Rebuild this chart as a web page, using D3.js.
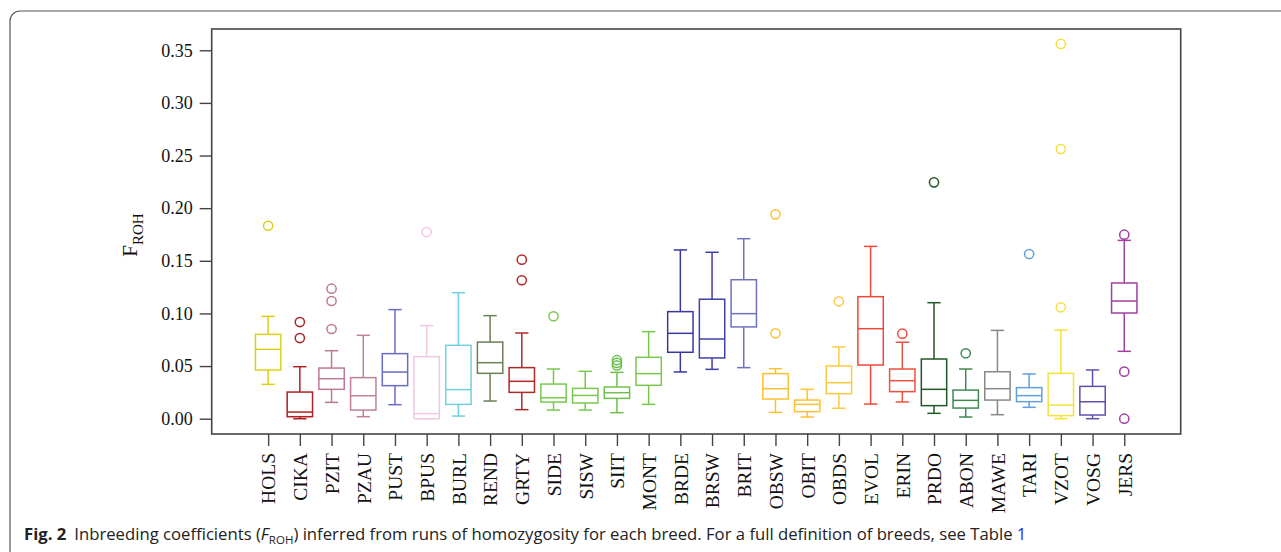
<!DOCTYPE html>
<html>
<head>
<meta charset="utf-8">
<script src="https://cdn.jsdelivr.net/npm/d3@7"></script>
<style>
  body { margin: 0; background: #fff; }
  svg { display: block; }
</style>
</head>
<body>
<svg id="froh" width="1281" height="552"></svg>
<script>
// breeds, in plotting order
var breeds = ["HOLS", "CIKA", "PZIT", "PZAU", "PUST", "BPUS", "BURL", "REND", "GRTY", "SIDE",
    "SISW", "SIIT", "MONT", "BRDE", "BRSW", "BRIT", "OBSW", "OBIT", "OBDS", "EVOL",
    "ERIN", "PRDO", "ABON", "MAWE", "TARI", "VZOT", "VOSG", "JERS"];

// box statistics
var whiskerLow  = [0.0326, 0.0000, 0.0155, 0.0019, 0.0133, 0.0000, 0.0025, 0.0168, 0.0086, 0.0082,
    0.0082, 0.0057, 0.0136, 0.0444, 0.0469, 0.0485, 0.0060, 0.0016, 0.0099, 0.0139,
    0.0159, 0.0051, 0.0016, 0.0038, 0.0108, 0.0000, 0.0000, 0.0640];
var q1          = [0.0462, 0.0019, 0.0279, 0.0082, 0.0314, 0.0000, 0.0136, 0.0431, 0.0250, 0.0158,
    0.0149, 0.0193, 0.0317, 0.0631, 0.0577, 0.0872, 0.0187, 0.0067, 0.0238, 0.0510,
    0.0257, 0.0124, 0.0101, 0.0177, 0.0162, 0.0029, 0.0035, 0.1004];
var median      = [0.0659, 0.0063, 0.0380, 0.0218, 0.0443, 0.0048, 0.0276, 0.0532, 0.0355, 0.0199,
    0.0221, 0.0247, 0.0428, 0.0811, 0.0757, 0.0998, 0.0285, 0.0136, 0.0342, 0.0855,
    0.0361, 0.0279, 0.0174, 0.0285, 0.0219, 0.0130, 0.0161, 0.1118];
var q3          = [0.0801, 0.0253, 0.0481, 0.0390, 0.0618, 0.0589, 0.0697, 0.0728, 0.0485, 0.0329,
    0.0288, 0.0301, 0.0583, 0.1017, 0.1135, 0.1320, 0.0428, 0.0177, 0.0501, 0.1159,
    0.0472, 0.0567, 0.0272, 0.0446, 0.0295, 0.0431, 0.0307, 0.1289];
var whiskerHigh = [0.0972, 0.0494, 0.0646, 0.0792, 0.1036, 0.0884, 0.1197, 0.0979, 0.0814, 0.0472,
    0.0450, 0.0440, 0.0827, 0.1603, 0.1581, 0.1710, 0.0475, 0.0279, 0.0681, 0.1637,
    0.0726, 0.1102, 0.0472, 0.0839, 0.0425, 0.0842, 0.0463, 0.1694];
var outliers = [
    [0.1833], [0.0918, 0.0766], [0.1235, 0.1118, 0.0852], [], [], [0.1773], [], [],
    [0.1511, 0.1315], [0.0973], [], [0.0556, 0.0530, 0.0506], [], [], [], [],
    [0.1941, 0.0811], [], [0.1115], [], [0.0808], [0.2245], [0.0621], [],
    [0.1564], [0.3560, 0.2562, 0.1058], [], [0.1748, 0.0447, 0.0000]
];
var yTicks = [0.00, 0.05, 0.10, 0.15, 0.20, 0.25, 0.30, 0.35];

// one colour per breed
var palette = ["#dccf1c", "#b02020", "#c07898", "#c0809c", "#6a6ac8", "#f0c8e4", "#70d0e0", "#6a8055",
    "#b02828", "#78c850", "#78c850", "#70c050", "#78c850", "#3838a0", "#4040a8", "#7070c0",
    "#ffc030", "#ffc030", "#ffc840", "#f04838", "#f05040", "#205828", "#408850", "#888888",
    "#60a0e0", "#f4e23c", "#6050b0", "#a040a0"];

var svg = d3.select("svg#froh");
var serif = "'Liberation Serif', 'Times New Roman', serif";
var frame = { left: 211.7, right: 1180.7, top: 29, bottom: 434 };

// outer figure border (rounded corner top-left)
svg.append("rect")
    .attr("x", 10).attr("y", 11)
    .attr("width", 1400).attr("height", 700)
    .attr("rx", 10)
    .attr("fill", "none")
    .attr("stroke", "#555")
    .attr("stroke-width", 1.2);

var x = d3.scalePoint()
    .domain(breeds)
    .range([frame.left, frame.right])
    .padding(1.78);

var y = d3.scaleLinear()
    .domain([-0.01454, 0.3702])
    .range([frame.bottom, frame.top]);

var step = x.step();
var boxW = step * 0.8;
var capW = step * 0.42;

// y axis
var yAxis = svg.append("g")
    .attr("transform", "translate(" + frame.left + ",0)")
    .call(d3.axisLeft(y).tickValues(yTicks).tickFormat(d3.format(".2f")).tickSize(12).tickPadding(7));
yAxis.select(".domain").remove();
yAxis.selectAll("line").attr("stroke", "#444").attr("stroke-width", 1.4);
yAxis.selectAll("text")
    .attr("font-family", serif)
    .attr("font-size", 18)
    .attr("fill", "#111");

// x axis
var xAxis = svg.append("g")
    .attr("transform", "translate(0," + frame.bottom + ")")
    .call(d3.axisBottom(x).tickSize(12));
xAxis.select(".domain").remove();
xAxis.selectAll("line").attr("stroke", "#444").attr("stroke-width", 1.4);
xAxis.selectAll("text")
    .attr("font-family", serif)
    .attr("font-size", 19.5)
    .attr("fill", "#111")
    .attr("transform", "rotate(-90)")
    .attr("x", -19)
    .attr("y", 0)
    .attr("dy", "0.35em")
    .style("text-anchor", "end");

// plot frame
svg.append("rect")
    .attr("x", frame.left).attr("y", frame.top)
    .attr("width", frame.right - frame.left)
    .attr("height", frame.bottom - frame.top)
    .attr("fill", "none")
    .attr("stroke", "#444")
    .attr("stroke-width", 1.6);

// y label F_ROH
var ylab = svg.append("text")
    .attr("transform", "translate(137,235) rotate(-90)")
    .attr("font-family", serif)
    .attr("fill", "#111")
    .attr("text-anchor", "middle");
ylab.append("tspan").attr("font-size", 21).text("F");
ylab.append("tspan").attr("font-size", 15).attr("dy", 6).text("ROH");

// boxes
var data = breeds.map(function (b, i) {
    return { breed: b, lo: whiskerLow[i], q1: q1[i], med: median[i], q3: q3[i], hi: whiskerHigh[i],
        out: outliers[i], color: palette[i] };
});

var g = svg.append("g").attr("fill", "none").attr("stroke-width", 1.5);

var box = g.selectAll(".box")
    .data(data)
    .enter()
    .append("g")
    .attr("class", "box")
    .attr("stroke", function (d) { return d.color; });

// whiskers
box.append("line")
    .attr("x1", function (d) { return x(d.breed); })
    .attr("x2", function (d) { return x(d.breed); })
    .attr("y1", function (d) { return y(d.hi); })
    .attr("y2", function (d) { return y(d.q3); });
box.append("line")
    .attr("x1", function (d) { return x(d.breed); })
    .attr("x2", function (d) { return x(d.breed); })
    .attr("y1", function (d) { return y(d.q1); })
    .attr("y2", function (d) { return y(d.lo); });
// caps
box.append("line")
    .attr("x1", function (d) { return x(d.breed) - capW / 2; })
    .attr("x2", function (d) { return x(d.breed) + capW / 2; })
    .attr("y1", function (d) { return y(d.hi); })
    .attr("y2", function (d) { return y(d.hi); });
box.append("line")
    .attr("x1", function (d) { return x(d.breed) - capW / 2; })
    .attr("x2", function (d) { return x(d.breed) + capW / 2; })
    .attr("y1", function (d) { return y(d.lo); })
    .attr("y2", function (d) { return y(d.lo); });
// box body
box.append("rect")
    .attr("x", function (d) { return x(d.breed) - boxW / 2; })
    .attr("y", function (d) { return y(d.q3); })
    .attr("width", boxW)
    .attr("height", function (d) { return y(d.q1) - y(d.q3); })
    .attr("fill", "#fff");
// median
box.append("line")
    .attr("x1", function (d) { return x(d.breed) - boxW / 2; })
    .attr("x2", function (d) { return x(d.breed) + boxW / 2; })
    .attr("y1", function (d) { return y(d.med); })
    .attr("y2", function (d) { return y(d.med); });
// outliers
box.selectAll("circle")
    .data(function (d) { return d.out.map(function (v) { return { breed: d.breed, v: v }; }); })
    .enter()
    .append("circle")
    .attr("cx", function (d) { return x(d.breed); })
    .attr("cy", function (d) { return y(d.v); })
    .attr("r", 4.6);

// caption
var cap = svg.append("text")
    .attr("x", 24)
    .attr("y", 540)
    .attr("font-family", "'Open Sans', 'Noto Sans', sans-serif")
    .attr("font-size", 16.7)
    .attr("fill", "#222");
cap.append("tspan").attr("font-weight", "bold").text("Fig. 2");
cap.append("tspan").attr("dx", 8).text("Inbreeding coefficients (");
cap.append("tspan").attr("font-style", "italic").text("F");
cap.append("tspan").attr("font-size", 11.5).attr("dy", 4).text("ROH");
cap.append("tspan").attr("dy", -4).text(") inferred from runs of homozygosity for each breed. For a full definition of breeds, see Table ");
cap.append("tspan").attr("fill", "#2a2aff").text("1");
</script>
</body>
</html>
